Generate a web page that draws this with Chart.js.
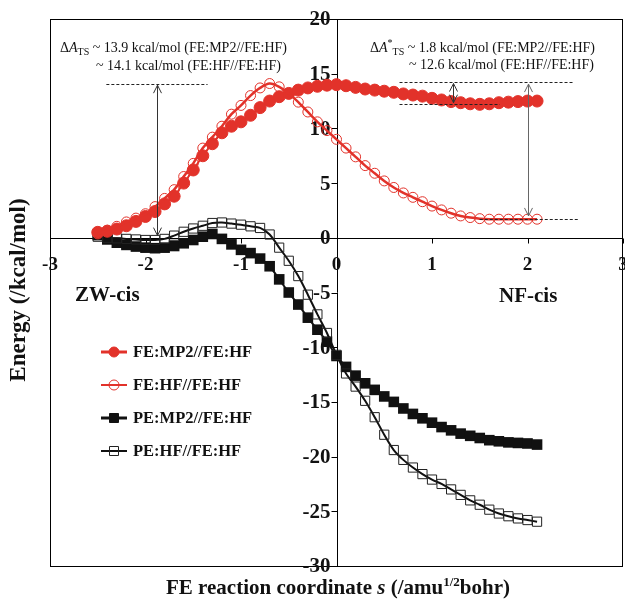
<!DOCTYPE html>
<html>
<head>
<meta charset="utf-8">
<script src="https://cdn.jsdelivr.net/npm/chart.js@4.4.0/dist/chart.umd.min.js"></script>
<style>
  html, body { margin: 0; padding: 0; background: #fff; }
  #wrap { width: 625px; height: 604px; }
</style>
</head>
<body>
<div id="wrap"><canvas id="chart" width="625" height="604"></canvas></div>
<script>
// reaction coordinate s (/amu^1/2 bohr)
const sCoord = [-2.5, -2.4, -2.3, -2.2, -2.1, -2.0, -1.9, -1.8, -1.7, -1.6,
  -1.5, -1.4, -1.3, -1.2, -1.1, -1.0, -0.9, -0.8, -0.7, -0.6,
  -0.5, -0.4, -0.3, -0.2, -0.1, 0.0, 0.1, 0.2, 0.3, 0.4,
  0.5, 0.6, 0.7, 0.8, 0.9, 1.0, 1.1, 1.2, 1.3, 1.4,
  1.5, 1.6, 1.7, 1.8, 1.9, 2.0, 2.1];

// energies (kcal/mol)
const feMP2 = [0.5, 0.6, 0.8, 1.1, 1.5, 1.95, 2.4, 3.1, 3.8, 5.0,
  6.2, 7.5, 8.6, 9.6, 10.2, 10.6, 11.2, 11.9, 12.5, 12.9,
  13.2, 13.5, 13.7, 13.85, 13.95, 14.0, 13.9, 13.75, 13.6, 13.5,
  13.4, 13.3, 13.15, 13.05, 12.95, 12.75, 12.6, 12.45, 12.35, 12.25,
  12.2, 12.25, 12.35, 12.4, 12.45, 12.5, 12.5];
const feHF = [0.35, 0.7, 1.05, 1.45, 1.8, 2.2, 2.85, 3.6, 4.4, 5.6,
  6.8, 8.2, 9.2, 10.2, 11.3, 12.1, 13.0, 13.7, 14.1, 13.8,
  13.2, 12.4, 11.5, 10.6, 9.8, 9.0, 8.2, 7.4, 6.6, 5.9,
  5.2, 4.6, 4.1, 3.7, 3.3, 2.9, 2.55, 2.25, 2.0, 1.85,
  1.75, 1.7, 1.7, 1.7, 1.7, 1.7, 1.7];
const peMP2 = [0.25, -0.15, -0.45, -0.65, -0.8, -0.9, -0.95, -0.9, -0.75, -0.5,
  -0.2, 0.1, 0.35, -0.1, -0.6, -1.1, -1.4, -1.9, -2.6, -3.8,
  -5.0, -6.1, -7.3, -8.4, -9.5, -10.8, -11.8, -12.6, -13.3, -13.9,
  -14.5, -15.0, -15.6, -16.1, -16.5, -16.9, -17.3, -17.6, -17.9, -18.1,
  -18.3, -18.5, -18.6, -18.7, -18.75, -18.8, -18.9];
const peHF = [0.1, 0.0, -0.05, -0.1, -0.15, -0.2, -0.2, -0.1, 0.2, 0.55,
  0.85, 1.1, 1.35, 1.4, 1.3, 1.2, 1.05, 0.9, 0.3, -0.9,
  -2.1, -3.5, -5.2, -7.0, -8.7, -10.7, -12.4, -13.6, -14.9, -16.4,
  -18.0, -19.4, -20.3, -21.0, -21.6, -22.1, -22.5, -23.0, -23.5, -24.0,
  -24.4, -24.85, -25.2, -25.45, -25.65, -25.8, -25.95];

const seriesNames = ["FE:MP2//FE:HF", "FE:HF//FE:HF", "PE:MP2//FE:HF", "PE:HF//FE:HF"];
const xTicks = [-3, -2, -1, 0, 1, 2, 3];
const yTicks = [-30, -25, -20, -15, -10, -5, 0, 5, 10, 15, 20];

const RED = "#e2322a";
const BLACK = "#111111";
const SERIF = "'Liberation Serif', 'Times New Roman', serif";

const pts = ys => sCoord.map((s, i) => ({ x: s, y: ys[i] }));

// draw a row of text pieces (for sub/superscripts)
function runsWidth(ctx, runs) {
  let w = 0;
  runs.forEach(r => { ctx.font = r.font; w += ctx.measureText(r.t).width; });
  return w;
}
function drawRuns(ctx, runs, x, y) {
  runs.forEach(r => {
    ctx.font = r.font;
    ctx.fillText(r.t, x, y + (r.dy || 0));
    x += ctx.measureText(r.t).width;
  });
}

function arrowHead(ctx, x, y, dir) {
  // dir -1: tip points up, 1: tip points down
  ctx.beginPath();
  ctx.moveTo(x - 4, y - dir * 8);
  ctx.lineTo(x, y);
  ctx.lineTo(x + 4, y - dir * 8);
  ctx.stroke();
}

// frame + axes crossing at the origin
const axesPlugin = {
  id: "crossAxes",
  beforeDatasetsDraw(chart) {
    const { ctx, chartArea: a, scales } = chart;
    const ox = Math.round(scales.x.getPixelForValue(0)) + 0.5;
    const oy = Math.round(scales.y.getPixelForValue(0)) + 0.5;
    ctx.save();
    ctx.strokeStyle = "#000";
    ctx.lineWidth = 1;
    ctx.strokeRect(a.left + 0.5, a.top + 0.5, a.right - a.left - 1, a.bottom - a.top);
    ctx.beginPath();
    ctx.moveTo(a.left, oy); ctx.lineTo(a.right, oy);
    ctx.moveTo(ox, a.top); ctx.lineTo(ox, a.bottom);
    xTicks.forEach(v => {
      const px = Math.round(scales.x.getPixelForValue(v)) + 0.5;
      ctx.moveTo(px, oy); ctx.lineTo(px, oy + 5);
    });
    yTicks.forEach(v => {
      const py = Math.round(scales.y.getPixelForValue(v)) + 0.5;
      ctx.moveTo(ox - 6, py); ctx.lineTo(ox, py);
    });
    ctx.stroke();

    ctx.fillStyle = BLACK;
    ctx.font = "bold 19px " + SERIF;
    ctx.textAlign = "center";
    ctx.textBaseline = "middle";
    xTicks.forEach(v => ctx.fillText(String(v), scales.x.getPixelForValue(v), oy + 27));
    ctx.font = "bold 21px " + SERIF;
    ctx.textAlign = "right";
    yTicks.forEach(v => ctx.fillText(String(v), ox - 7, scales.y.getPixelForValue(v) + 1));
    ctx.restore();
  }
};

const decorPlugin = {
  id: "decor",
  afterDatasetsDraw(chart) {
    const { ctx, scales } = chart;
    const X = v => scales.x.getPixelForValue(v);
    const Y = v => scales.y.getPixelForValue(v);
    ctx.save();
    ctx.lineWidth = 1;

    // dashed reference levels
    ctx.strokeStyle = "#222";
    ctx.setLineDash([3, 2]);
    [[-2.41, -1.35, 14.1], [0.66, 2.49, 14.2], [0.66, 1.71, 12.25], [1.5, 2.53, 1.7]].forEach(([x1, x2, y]) => {
      ctx.beginPath();
      ctx.moveTo(X(x1), Math.round(Y(y)) + 0.5);
      ctx.lineTo(X(x2), Math.round(Y(y)) + 0.5);
      ctx.stroke();
    });
    ctx.setLineDash([]);

    // double arrows
    [[-1.88, 13.95, 0.2, "#333"], [1.22, 14.1, 12.35, "#333"], [2.0, 14.05, 2.0, "#666"]].forEach(([x, y1, y2, c]) => {
      const px = Math.round(X(x)) + 0.5;
      ctx.strokeStyle = c;
      ctx.beginPath();
      ctx.moveTo(px, Y(y1));
      ctx.lineTo(px, Y(y2));
      ctx.stroke();
      arrowHead(ctx, px, Y(y1), -1);
      arrowHead(ctx, px, Y(y2), 1);
    });
    ctx.restore();
  },
  afterDraw(chart) {
    const { ctx } = chart;
    ctx.save();
    ctx.fillStyle = BLACK;
    ctx.textBaseline = "alphabetic";
    ctx.textAlign = "left";

    const nf = "14px " + SERIF;
    const it = "italic 14px " + SERIF;
    const sm = "10px " + SERIF;
    drawRuns(ctx, [
      { t: "\u0394", font: nf }, { t: "A", font: it }, { t: "TS", font: sm, dy: 3 },
      { t: " ~ 13.9 kcal/mol (FE:MP2//FE:HF)", font: nf }], 60, 52);
    drawRuns(ctx, [{ t: "~ 14.1 kcal/mol (FE:HF//FE:HF)", font: nf }], 96, 70);
    drawRuns(ctx, [
      { t: "\u0394", font: nf }, { t: "A", font: it }, { t: "*", font: sm, dy: -6 }, { t: "TS", font: sm, dy: 3 },
      { t: " ~ 1.8 kcal/mol (FE:MP2//FE:HF)", font: nf }], 370, 52);
    drawRuns(ctx, [{ t: "~ 12.6 kcal/mol (FE:HF//FE:HF)", font: nf }], 409, 69);

    // end-point labels
    ctx.font = "bold 21px " + SERIF;
    ctx.fillText("ZW-cis", 75, 301);
    ctx.fillText("NF-cis", 499, 302);

    // axis titles
    const bt = "bold 21px " + SERIF;
    const title = [
      { t: "FE reaction coordinate ", font: bt }, { t: "s", font: "bold italic 21px " + SERIF },
      { t: " (/amu", font: bt }, { t: "1/2", font: "bold 13px " + SERIF, dy: -8 }, { t: "bohr)", font: bt }];
    drawRuns(ctx, title, 338 - runsWidth(ctx, title) / 2, 594);

    ctx.save();
    ctx.translate(19, 290);
    ctx.rotate(-Math.PI / 2);
    ctx.textAlign = "center";
    ctx.textBaseline = "middle";
    ctx.font = "bold 23px " + SERIF;
    ctx.fillText("Energy (/kcal/mol)", 0, 0);
    ctx.restore();

    // legend
    const rows = [352, 385, 418, 451];
    chart.data.datasets.forEach((ds, i) => {
      const y = rows[i];
      ctx.strokeStyle = ds.borderColor;
      ctx.lineWidth = i === 1 || i === 3 ? 2 : 3;
      ctx.beginPath();
      ctx.moveTo(101, y);
      ctx.lineTo(127, y);
      ctx.stroke();
      ctx.fillStyle = ds.pointBackgroundColor;
      ctx.strokeStyle = ds.pointBorderColor;
      ctx.lineWidth = 1;
      ctx.beginPath();
      if (ds.pointStyle === "circle") {
        ctx.arc(114, y, 5, 0, Math.PI * 2);
      } else {
        ctx.rect(109.5, y - 4.5, 9, 9);
      }
      ctx.fill();
      ctx.stroke();
      ctx.fillStyle = BLACK;
      ctx.font = "bold 16.5px " + SERIF;
      ctx.textBaseline = "middle";
      ctx.fillText(ds.label, 133, y + 1);
    });
    ctx.restore();
  }
};

new Chart(document.getElementById("chart"), {
  type: "line",
  data: {
    datasets: [
      {
        label: seriesNames[0], data: pts(feMP2), order: 2,
        borderColor: RED, borderWidth: 2, pointStyle: "circle", pointRadius: 6,
        pointBackgroundColor: RED, pointBorderColor: RED, pointBorderWidth: 1, tension: 0.3
      },
      {
        label: seriesNames[1], data: pts(feHF), order: 1,
        borderColor: RED, borderWidth: 2.5, pointStyle: "circle", pointRadius: 5,
        pointBackgroundColor: "rgba(255,255,255,0)", pointBorderColor: RED, pointBorderWidth: 1, tension: 0.3
      },
      {
        label: seriesNames[2], data: pts(peMP2), order: 4,
        borderColor: BLACK, borderWidth: 2, pointStyle: "rect", pointRadius: 7.5,
        pointBackgroundColor: BLACK, pointBorderColor: BLACK, pointBorderWidth: 0, tension: 0.3
      },
      {
        label: seriesNames[3], data: pts(peHF), order: 3,
        borderColor: BLACK, borderWidth: 2, pointStyle: "rect", pointRadius: 6.5,
        pointBackgroundColor: "rgba(255,255,255,0)", pointBorderColor: "#222", pointBorderWidth: 1, tension: 0.3
      }
    ]
  },
  options: {
    responsive: false,
    animation: false,
    devicePixelRatio: 1,
    layout: { autoPadding: false, padding: { left: 50, top: 19, right: 2, bottom: 38 } },
    plugins: { legend: { display: false }, tooltip: { enabled: false } },
    scales: {
      x: { type: "linear", min: -3, max: 3, display: false },
      y: { type: "linear", min: -30, max: 20, display: false }
    }
  },
  plugins: [axesPlugin, decorPlugin]
});
</script>
</body>
</html>
